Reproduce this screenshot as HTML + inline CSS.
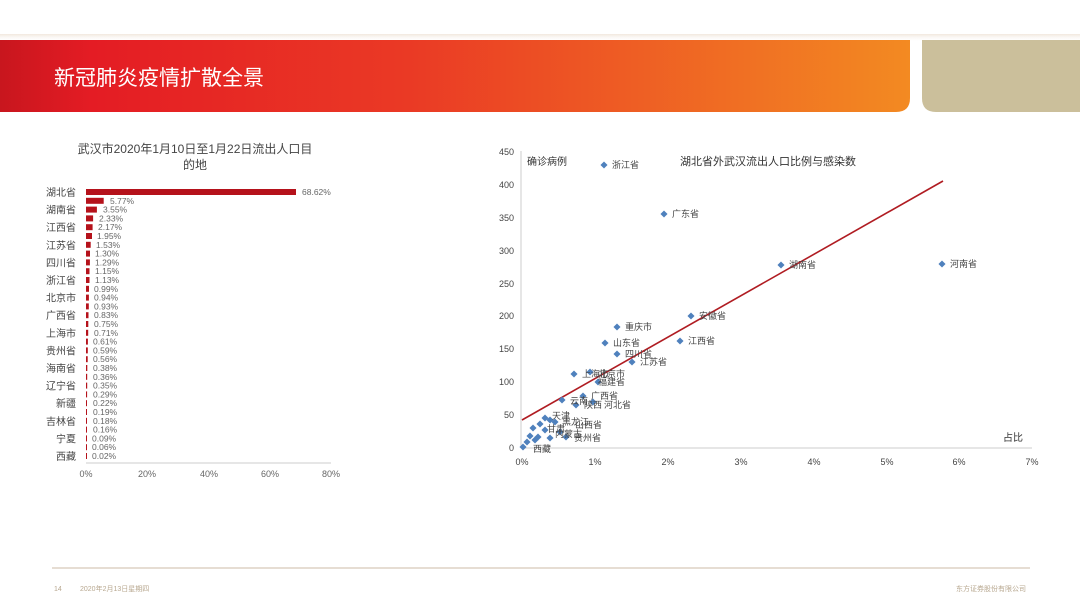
<!DOCTYPE html>
<html><head><meta charset="utf-8"><style>
body{margin:0;width:1080px;height:608px;overflow:hidden;background:#fff;font-family:"Liberation Sans","Noto Sans CJK SC",sans-serif}
svg{display:block}
</style></head><body>
<svg width="1080" height="608" viewBox="0 0 1080 608" font-family="Liberation Sans, Noto Sans CJK SC, sans-serif">
<defs>
<linearGradient id="g" x1="0" x2="1" y1="0" y2="0">
<stop offset="0" stop-color="#c8161e"/><stop offset="0.1" stop-color="#e41c24"/><stop offset="0.45" stop-color="#ea3a25"/><stop offset="1" stop-color="#f38a22"/>
</linearGradient>
<linearGradient id="s" x1="0" x2="0" y1="0" y2="1"><stop offset="0" stop-color="#e9d8c8"/><stop offset="1" stop-color="#fff" stop-opacity="0"/></linearGradient>
</defs>
<rect x="0" y="34" width="1080" height="8" fill="url(#s)" opacity="0.6"/>
<path d="M0 40 H910 V98 Q910 112 896 112 H0 Z" fill="url(#g)"/>
<path d="M922 40 H1080 V112 H936 Q922 112 922 98 Z" fill="#cbbf9b"/>
<text x="54" y="85" font-size="21" fill="#fff">新冠肺炎疫情扩散全景</text>

<!-- bar chart -->
<text x="195" y="153" font-size="12" fill="#444" text-anchor="middle">武汉市2020年1月10日至1月22日流出人口目</text>
<text x="195" y="169" font-size="12" fill="#444" text-anchor="middle">的地</text>
<g fill="#444" font-size="10" text-anchor="end">
<text x="76" y="196">湖北省</text><text x="76" y="213.6">湖南省</text><text x="76" y="231.2">江西省</text><text x="76" y="248.8">江苏省</text><text x="76" y="266.4">四川省</text><text x="76" y="284">浙江省</text><text x="76" y="301.6">北京市</text><text x="76" y="319.2">广西省</text><text x="76" y="336.8">上海市</text><text x="76" y="354.4">贵州省</text><text x="76" y="372">海南省</text><text x="76" y="389.6">辽宁省</text><text x="76" y="407.2">新疆</text><text x="76" y="424.8">吉林省</text><text x="76" y="442.4">宁夏</text><text x="76" y="460">西藏</text>
</g>
<g fill="#b5121b">
<rect x="86" y="189" width="210" height="6"/><rect x="86" y="197.8" width="17.7" height="6"/><rect x="86" y="206.6" width="10.9" height="6"/><rect x="86" y="215.4" width="7.1" height="6"/><rect x="86" y="224.2" width="6.6" height="6"/><rect x="86" y="233" width="6" height="6"/><rect x="86" y="241.8" width="4.7" height="6"/><rect x="86" y="250.6" width="4" height="6"/><rect x="86" y="259.4" width="3.9" height="6"/><rect x="86" y="268.2" width="3.5" height="6"/><rect x="86" y="277" width="3.5" height="6"/><rect x="86" y="285.8" width="3" height="6"/><rect x="86" y="294.6" width="2.9" height="6"/><rect x="86" y="303.4" width="2.8" height="6"/><rect x="86" y="312.2" width="2.5" height="6"/><rect x="86" y="321" width="2.3" height="6"/><rect x="86" y="329.8" width="2.2" height="6"/><rect x="86" y="338.6" width="1.9" height="6"/><rect x="86" y="347.4" width="1.8" height="6"/><rect x="86" y="356.2" width="1.7" height="6"/><rect x="86" y="365" width="1.3" height="6"/><rect x="86" y="373.8" width="1.2" height="6"/><rect x="86" y="382.6" width="1.2" height="6"/><rect x="86" y="391.4" width="1.1" height="6"/><rect x="86" y="400.2" width="1" height="6"/><rect x="86" y="409" width="1" height="6"/><rect x="86" y="417.8" width="1" height="6"/><rect x="86" y="426.6" width="1" height="6"/><rect x="86" y="435.4" width="1" height="6"/><rect x="86" y="444.2" width="1" height="6"/><rect x="86" y="453" width="1" height="6"/>
</g>
<g fill="#666" font-size="8.5">
<text x="302" y="195">68.62%</text><text x="110" y="204">5.77%</text><text x="103" y="212.6">3.55%</text><text x="99" y="221.4">2.33%</text><text x="98" y="230.2">2.17%</text><text x="97" y="239">1.95%</text><text x="96" y="247.8">1.53%</text><text x="95" y="256.6">1.30%</text><text x="95" y="265.4">1.29%</text><text x="95" y="274.2">1.15%</text><text x="95" y="283">1.13%</text><text x="94" y="291.8">0.99%</text><text x="94" y="300.6">0.94%</text><text x="94" y="309.4">0.93%</text><text x="94" y="318.2">0.83%</text><text x="94" y="327">0.75%</text><text x="94" y="335.8">0.71%</text><text x="93" y="344.6">0.61%</text><text x="93" y="353.4">0.59%</text><text x="93" y="362.2">0.56%</text><text x="93" y="371">0.38%</text><text x="93" y="379.8">0.36%</text><text x="93" y="388.6">0.35%</text><text x="93" y="397.4">0.29%</text><text x="93" y="406.2">0.22%</text><text x="93" y="415">0.19%</text><text x="93" y="423.8">0.18%</text><text x="93" y="432.6">0.16%</text><text x="92" y="441.4">0.09%</text><text x="92" y="450.2">0.06%</text><text x="92" y="459">0.02%</text>
</g>
<line x1="86" y1="463" x2="331" y2="463" stroke="#ccc"/>
<g fill="#666" font-size="9" text-anchor="middle">
<text x="86" y="477">0%</text><text x="147" y="477">20%</text><text x="209" y="477">40%</text><text x="270" y="477">60%</text><text x="331" y="477">80%</text>
</g>

<!-- scatter -->
<line x1="521" y1="151" x2="521" y2="448" stroke="#ccc"/>
<line x1="521" y1="448" x2="1032" y2="448" stroke="#ccc"/>
<g fill="#444" font-size="9" text-anchor="end">
<text x="514" y="155">450</text><text x="514" y="188">400</text><text x="514" y="221">350</text><text x="514" y="254">300</text><text x="514" y="287">250</text><text x="514" y="319">200</text><text x="514" y="352">150</text><text x="514" y="385">100</text><text x="514" y="418">50</text><text x="514" y="451">0</text>
</g>
<g fill="#444" font-size="9" text-anchor="middle">
<text x="522" y="465">0%</text><text x="595" y="465">1%</text><text x="668" y="465">2%</text><text x="741" y="465">3%</text><text x="814" y="465">4%</text><text x="887" y="465">5%</text><text x="959" y="465">6%</text><text x="1032" y="465">7%</text>
</g>
<text x="527" y="165" font-size="10" fill="#333">确诊病例</text>
<text x="680" y="165" font-size="11" fill="#333">湖北省外武汉流出人口比例与感染数</text>
<text x="1003" y="441" font-size="10" fill="#333">占比</text>
<line x1="522" y1="420" x2="943" y2="181" stroke="#b01c22" stroke-width="1.6"/>
<g fill="#4f81bd">
<g transform="translate(604,165)"><rect x="-2.5" y="-2.5" width="5" height="5" transform="rotate(45)"/></g>
<g transform="translate(664,214)"><rect x="-2.5" y="-2.5" width="5" height="5" transform="rotate(45)"/></g>
<g transform="translate(781,265)"><rect x="-2.5" y="-2.5" width="5" height="5" transform="rotate(45)"/></g>
<g transform="translate(942,264)"><rect x="-2.5" y="-2.5" width="5" height="5" transform="rotate(45)"/></g>
<g transform="translate(691,316)"><rect x="-2.5" y="-2.5" width="5" height="5" transform="rotate(45)"/></g>
<g transform="translate(617,327)"><rect x="-2.5" y="-2.5" width="5" height="5" transform="rotate(45)"/></g>
<g transform="translate(680,341)"><rect x="-2.5" y="-2.5" width="5" height="5" transform="rotate(45)"/></g>
<g transform="translate(605,343)"><rect x="-2.5" y="-2.5" width="5" height="5" transform="rotate(45)"/></g>
<g transform="translate(617,354)"><rect x="-2.5" y="-2.5" width="5" height="5" transform="rotate(45)"/></g>
<g transform="translate(632,362)"><rect x="-2.5" y="-2.5" width="5" height="5" transform="rotate(45)"/></g>
<g transform="translate(574,374)"><rect x="-2.5" y="-2.5" width="5" height="5" transform="rotate(45)"/></g>
<g transform="translate(590,372)"><rect x="-2.5" y="-2.5" width="5" height="5" transform="rotate(45)"/></g>
<g transform="translate(598,382)"><rect x="-2.5" y="-2.5" width="5" height="5" transform="rotate(45)"/></g>
<g transform="translate(583,396)"><rect x="-2.5" y="-2.5" width="5" height="5" transform="rotate(45)"/></g>
<g transform="translate(562,400)"><rect x="-2.5" y="-2.5" width="5" height="5" transform="rotate(45)"/></g>
<g transform="translate(576,405)"><rect x="-2.5" y="-2.5" width="5" height="5" transform="rotate(45)"/></g>
<g transform="translate(593,402)"><rect x="-2.5" y="-2.5" width="5" height="5" transform="rotate(45)"/></g>
<g transform="translate(545,418)"><rect x="-2.5" y="-2.5" width="5" height="5" transform="rotate(45)"/></g>
<g transform="translate(550,420)"><rect x="-2.5" y="-2.5" width="5" height="5" transform="rotate(45)"/></g>
<g transform="translate(555,422)"><rect x="-2.5" y="-2.5" width="5" height="5" transform="rotate(45)"/></g>
<g transform="translate(540,424)"><rect x="-2.5" y="-2.5" width="5" height="5" transform="rotate(45)"/></g>
<g transform="translate(533,428)"><rect x="-2.5" y="-2.5" width="5" height="5" transform="rotate(45)"/></g>
<g transform="translate(545,430)"><rect x="-2.5" y="-2.5" width="5" height="5" transform="rotate(45)"/></g>
<g transform="translate(560,432)"><rect x="-2.5" y="-2.5" width="5" height="5" transform="rotate(45)"/></g>
<g transform="translate(530,436)"><rect x="-2.5" y="-2.5" width="5" height="5" transform="rotate(45)"/></g>
<g transform="translate(538,437)"><rect x="-2.5" y="-2.5" width="5" height="5" transform="rotate(45)"/></g>
<g transform="translate(550,438)"><rect x="-2.5" y="-2.5" width="5" height="5" transform="rotate(45)"/></g>
<g transform="translate(566,437)"><rect x="-2.5" y="-2.5" width="5" height="5" transform="rotate(45)"/></g>
<g transform="translate(527,442)"><rect x="-2.5" y="-2.5" width="5" height="5" transform="rotate(45)"/></g>
<g transform="translate(535,440)"><rect x="-2.5" y="-2.5" width="5" height="5" transform="rotate(45)"/></g>
<g transform="translate(523,447)"><rect x="-2.5" y="-2.5" width="5" height="5" transform="rotate(45)"/></g>
</g>
<g fill="#444" font-size="9">
<text x="612" y="168">浙江省</text><text x="672" y="217">广东省</text><text x="789" y="268">湖南省</text><text x="950" y="267">河南省</text><text x="699" y="319">安徽省</text><text x="625" y="330">重庆市</text><text x="688" y="344">江西省</text><text x="613" y="346">山东省</text><text x="625" y="357">四川省</text><text x="640" y="365">江苏省</text><text x="582" y="377">上海市</text><text x="598" y="377">北京市</text><text x="598" y="385">福建省</text><text x="591" y="399">广西省</text><text x="570" y="404">云南</text><text x="584" y="408">陕西</text><text x="604" y="408">河北省</text><text x="552" y="419">天津</text><text x="562" y="425">黑龙江</text><text x="575" y="428">山西省</text><text x="547" y="432">甘肃</text><text x="555" y="437">内蒙古</text><text x="574" y="441">贵州省</text><text x="533" y="452">西藏</text>
</g>

<!-- footer -->
<line x1="52" y1="568" x2="1030" y2="568" stroke="#e6ddd3" stroke-width="2"/>
<text x="54" y="591" font-size="7" fill="#b8a890">14</text>
<text x="80" y="591" font-size="7" fill="#b8a890">2020年2月13日星期四</text>
<text x="1026" y="591" font-size="7" fill="#b8a890" text-anchor="end">东方证券股份有限公司</text>
</svg>
</body></html>
